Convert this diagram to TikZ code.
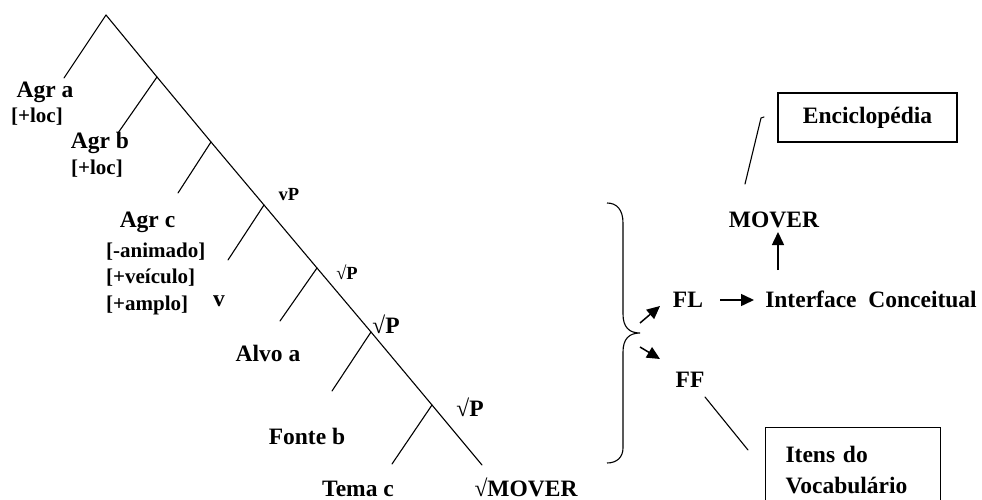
\documentclass[tikz,border=0pt]{standalone}
\usepackage{fontspec}
\setmainfont{Liberation Serif}
\usetikzlibrary{arrows.meta}
\begin{document}
\begin{tikzpicture}[x=1pt,y=-1pt,
  lbl/.style={font=\bfseries\fontsize{23.5}{31}\selectfont, inner sep=0pt},
  feat/.style={font=\bfseries\fontsize{21}{24}\selectfont, inner sep=0pt},
  lblsmall/.style={font=\bfseries\fontsize{18.5}{22}\selectfont, inner sep=0pt},
  branch/.style={line width=1.1pt, line cap=round},
  arr/.style={line width=1.5pt, -{Triangle[length=13pt,width=12pt]}},
  boxed/.style={draw, line width=1.1pt, font=\bfseries\fontsize{23.5}{31}\selectfont}]
\useasboundingbox (0,0) rectangle (982,500);

% spine of the tree and its branching points
\coordinate (top) at (106,15);
\coordinate (b1) at (157,77);
\coordinate (b2) at (211,142);
\coordinate (b3) at (264,205);
\coordinate (b4) at (317,268);
\coordinate (b5) at (371,332);
\coordinate (b6) at (432,405);
\coordinate (bend) at (482,465);
% ends of the left branches
\coordinate (l0) at (64,78);
\coordinate (l1) at (118,133);
\coordinate (l2) at (178,193);
\coordinate (l3) at (228,260);
\coordinate (l4) at (280,321);
\coordinate (l5) at (332,391);
\coordinate (l6) at (392,464);

\draw[branch] (top) -- (b1) -- (b2) -- (b3) -- (b4) -- (b5) -- (b6) -- (bend);
\draw[branch] (top) -- (l0);
\draw[branch] (b1) -- (l1);
\draw[branch] (b2) -- (l2);
\draw[branch] (b3) -- (l3);
\draw[branch] (b4) -- (l4);
\draw[branch] (b5) -- (l5);
\draw[branch] (b6) -- (l6);

% tree labels
\node[lbl] (agra) at (45,92) {Agr a};
\node[feat] (loca) at (37,117) {[+loc]};
\node[lbl] (agrb) at (100,143) {Agr b};
\node[feat] (locb) at (97,169) {[+loc]};
\node[lbl] (agrc) at (147.5,222) {Agr c};
\node[feat, anchor=west] (anim) at (106,252) {[-animado]};
\node[feat, anchor=west] (veic) at (106,278) {[+veículo]};
\node[feat, anchor=west] (ampl) at (106,305) {[+amplo]};
\node[lbl] (vhead) at (219,301) {v};
\node[lblsmall] (vP) at (289,195) {vP};
\node[lblsmall] (rP1) at (347,272) {√P};
\node[lbl] (rP2) at (386,324) {√P};
\node[lbl] (rP3) at (470,407) {√P};
\node[lbl] (alvo) at (268,353) {Alvo a};
\node[lbl] (fonte) at (307,436) {Fonte b};
\node[lbl, anchor=base] (tema) at (358,496) {Tema c};
\node[lbl, anchor=base] (rmover) at (526,496) {√MOVER};

% brace gathering the derivation
\coordinate (btop) at (607,203);
\coordinate (btip) at (640,333);
\coordinate (bbot) at (607,463);
\draw[line width=1.1pt] (btop) .. controls (617,203) and (623,210) .. (623,223)
  -- (623,314) .. controls (623,327) and (629,333) .. (btip)
  .. controls (629,333) and (623,339) .. (623,352)
  -- (623,448) .. controls (623,457) and (617,463) .. (bbot);

% interfaces
\node[lbl] (FL) at (688,300) {FL};
\node[lbl] (FF) at (690,380) {FF};
\node[lbl] (ic) at (871,299) {Interface\ \ Conceitual};
\node[lbl] (mover) at (774,220) {MOVER};
\node[boxed, minimum width=179pt, minimum height=49pt] (enc) at (867.5,117.5) {Enciclopédia};
\node[boxed, anchor=north west, minimum width=175pt, minimum height=84pt,
      text width=135pt, inner xsep=20pt, align=left] (itens) at (765,427)
      {Itens do\\Vocabulário};

\coordinate (aFLs) at (640,323);
\coordinate (aFLe) at (660,306);
\coordinate (aFFs) at (640,347);
\coordinate (aFFe) at (660,359);
\draw[arr] (aFLs) -- (aFLe);
\draw[arr] (aFFs) -- (aFFe);
\coordinate (flr) at (720,300);
\coordinate (icl) at (754,300);
\draw[arr] (flr) -- (icl);
\coordinate (mvb) at (778,270);
\coordinate (mvt) at (778,232);
\draw[arr] (mvb) -- (mvt);

% associations with the lists
\coordinate (encl) at (745,184);
\coordinate (enct) at (761,118);
\draw[branch] (encl) -- (enct) -- ++(3,-1);
\coordinate (ffa) at (705,397);
\coordinate (ffb) at (748,450);
\draw[branch] (ffa) -- (ffb);
\end{tikzpicture}
\end{document}
